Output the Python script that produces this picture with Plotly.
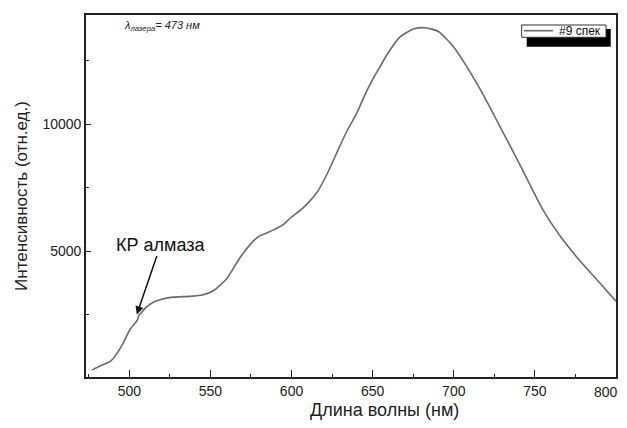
import plotly.graph_objects as go

# spectre #9
wavelength = [477, 482, 488.5, 492.5, 496.3, 500.4, 504.5, 505.2, 505.8, 506.5, 510.7, 514.5,
              518.9, 526.9, 537.4, 545, 552, 560, 568.2, 576.4, 580, 584.7, 594.9, 599.1,
              607.3, 615.5, 621.7, 627.8, 634, 640.2, 646.3, 650.4, 654.6, 658.7, 666.9,
              675.1, 682.3, 690.5, 699.7, 708, 718.2, 728.5, 740.8, 754.9, 765, 775.5,
              788, 800]
intensity = [330, 490, 683, 1000, 1405, 1927, 2250, 2330, 2480, 2530, 2818, 2990,
             3100, 3200, 3230, 3280, 3460, 3920, 4750, 5400, 5600, 5720, 6050, 6300,
             6720, 7300, 8010, 8862, 9710, 10430, 11300, 11800, 12260, 12720, 13430,
             13740, 13790, 13640, 13050, 12260, 11150, 9900, 8400, 6640, 5650, 4800,
             3900, 3040]

x_ticks = [500, 550, 600, 650, 700, 750, 800]
x_tick_text = ['500', '550', '600', '650', '700', '750', '']  # 800 is written separately
y_ticks = [5000, 10000]
y_tick_text = ['5000', '10000']

# page body has an 8px margin on every side, keep the figure inside the window
OFF = 8
W, H = 627 - OFF, 428 - 2 * OFF
L, R, T, B = 86 - OFF, 616 - OFF, 15 - OFF, 377.3 - OFF

def px(x):
    return (x - OFF - L) / (R - L)

def py(y):
    return (B - (y - OFF)) / (B - T)

font = "Liberation Sans, Arial, sans-serif"

fig = go.Figure()
fig.add_trace(go.Scatter(x=wavelength, y=intensity, mode='lines', name='#9 спек',
                         line=dict(color='#6a6a6a', width=1.6, shape='spline', smoothing=0.6),
                         showlegend=False))

axis_common = dict(showline=True, linecolor='#222', linewidth=1.6, mirror=True,
                   ticks='inside', tickcolor='#222', tickwidth=1.3,
                   showgrid=False, zeroline=False, automargin=False,
                   tickfont=dict(family=font, size=14, color='#222'))

fig.update_xaxes(range=[473.3, 800], tickvals=x_ticks, ticktext=x_tick_text, ticklen=7,
                 minor=dict(dtick=25, tick0=475, ticklen=3.5, ticks='inside', tickcolor='#222'),
                 **axis_common)
fig.update_yaxes(range=[60, 14290], tickvals=y_ticks, ticktext=y_tick_text, ticklen=5,
                 minor=dict(dtick=2500, tick0=0, ticklen=3.5, ticks='inside', tickcolor='#222'),
                 title=dict(text='Интенсивность (отн.ед.)', font=dict(family=font, size=17, color='#222'),
                            standoff=11),
                 **axis_common)

# last tick label, kept inside the window edge
fig.add_annotation(xref='paper', yref='paper', x=px(620), y=py(392), xanchor='right', yanchor='middle',
                   text=str(x_ticks[-1]), showarrow=False, font=dict(family=font, size=14, color='#222'))

# x title sits right of centre in the original
fig.add_annotation(xref='paper', yref='paper', x=px(384), y=py(410), xanchor='center', yanchor='middle',
                   text='Длина волны (нм)', showarrow=False, font=dict(family=font, size=18, color='#222'))

# legend drawn by hand (box with shadow)
fig.add_shape(type='rect', xref='paper', yref='paper', layer='above',
              x0=px(526.7), x1=px(610.7), y0=py(46.7), y1=py(29),
              fillcolor='black', line=dict(width=0))
fig.add_shape(type='rect', xref='paper', yref='paper', layer='above',
              x0=px(521.7), x1=px(606), y0=py(37.3), y1=py(25),
              fillcolor='white', line=dict(color='#333', width=1))
fig.add_shape(type='line', xref='paper', yref='paper', layer='above',
              x0=px(524), x1=px(553), y0=py(30.7), y1=py(30.7),
              line=dict(color='#6a6a6a', width=1.6))
fig.add_annotation(xref='paper', yref='paper', x=px(557), y=py(31), xanchor='left', yanchor='middle',
                   text='#9 спек', showarrow=False, font=dict(family=font, size=12, color='#111'))

fig.add_annotation(xref='paper', yref='paper', x=px(122), y=py(26), xanchor='left', yanchor='middle',
                   text='<i>λ<sub>лазера</sub>= 473 нм</i>', showarrow=False,
                   font=dict(family=font, size=11, color='#222'))

fig.add_annotation(x=504.6, y=2515, text='КР алмаза', showarrow=True,
                   arrowhead=2, arrowsize=1.1, arrowwidth=1.5, arrowcolor='#111',
                   ax=24, ay=-70, font=dict(family=font, size=18, color='#111'))

fig.update_layout(width=W, height=H, margin=dict(l=L, r=W - R, t=T, b=H - B),
                  paper_bgcolor='white', plot_bgcolor='white', showlegend=False)

fig.write_html("out.html")
